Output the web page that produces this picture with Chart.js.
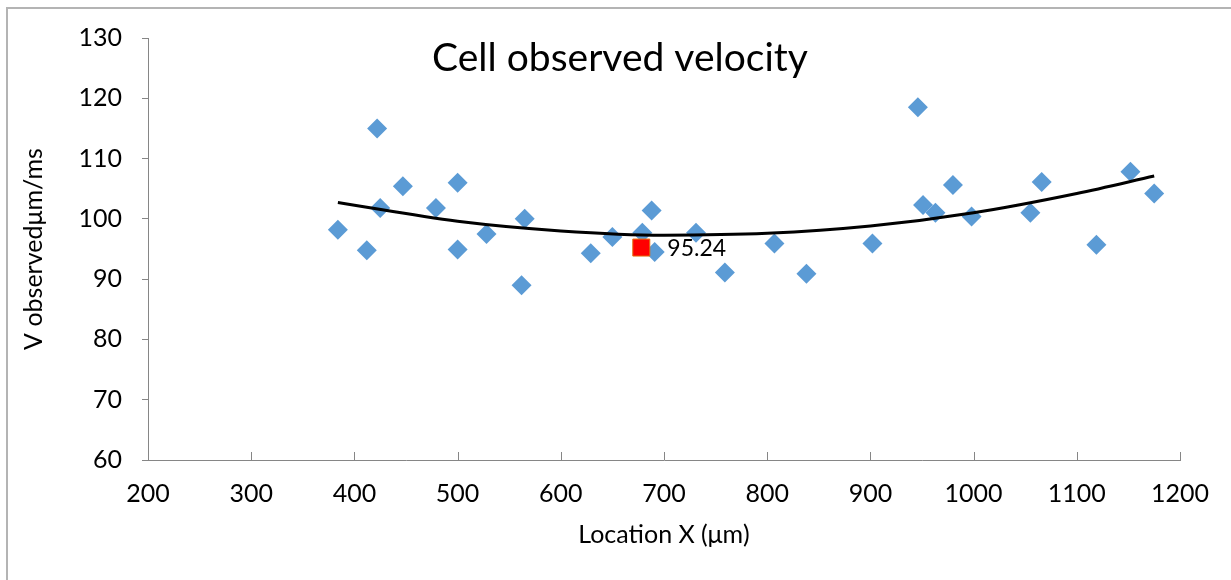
<!DOCTYPE html>
<html>
<head>
<meta charset="utf-8">
<script src="https://cdn.jsdelivr.net/npm/chart.js@4.4.1/dist/chart.umd.min.js"></script>
<style>
  html, body { margin: 0; padding: 0; background: #fff; overflow: hidden; }
  #frame { position: absolute; left: 6px; top: 7px; width: 1400px; height: 800px; border: 2px solid #b4b4b4; }
  #wrap { position: absolute; left: 0; top: 0; width: 1231px; height: 580px; }
</style>
</head>
<body>
<div id="frame"></div>
<div id="wrap"><canvas id="myChart"></canvas></div>
<script>
// measured cells
const locationX = [384, 412, 422, 425, 447, 479, 500, 500, 528, 562, 565, 629, 650, 679, 688, 691,
  731, 759, 807, 838, 902, 946, 951, 963, 980, 998, 1055, 1066, 1119, 1152, 1175];
const velocity = [98.2, 94.8, 115.0, 101.8, 105.4, 101.8, 106.0, 94.9, 97.5, 89.0, 100.0, 94.3, 97.0, 97.7, 101.4, 94.5,
  97.7, 91.1, 95.9, 90.9, 95.9, 118.5, 102.3, 101.0, 105.6, 100.4, 101.0, 106.1, 95.7, 107.8, 104.2];

// highlighted point
const markX = [678];
const markY = [95.24];

// trendline
const trendX = [384, 500, 600, 700, 800, 900, 1000, 1100, 1175];
const trendY = [102.7, 99.6, 98.0, 97.3, 97.6, 98.8, 101.0, 104.2, 107.1];

const chartTitle = 'Cell observed velocity';
const xTitle = 'Location X (\u03bcm)';
const yTitle = 'V observed\u03bcm/ms';

const FONT = 'Lato, "Open Sans", sans-serif';

function toPoints(xs, ys) {
  return xs.map((x, i) => ({ x: x, y: ys[i] }));
}

// title, data label and inward x ticks
const extras = {
  id: 'extras',
  afterDraw(chart) {
    const ctx = chart.ctx;
    const xs = chart.scales.x, ys = chart.scales.y;
    ctx.save();
    ctx.strokeStyle = '#868686';
    ctx.lineWidth = 1;
    xs.ticks.forEach(t => {
      const px = Math.round(xs.getPixelForValue(t.value)) + 0.5;
      ctx.beginPath();
      ctx.moveTo(px, ys.bottom);
      ctx.lineTo(px, ys.bottom - 8);
      ctx.stroke();
    });
    ctx.fillStyle = '#000';
    ctx.font = '39px ' + FONT;
    ctx.textAlign = 'center';
    ctx.textBaseline = 'middle';
    ctx.fillText(chartTitle, 620, 58);
    ctx.font = '23px ' + FONT;
    ctx.textAlign = 'left';
    const lx = xs.getPixelForValue(markX[0]) + 26;
    const ly = ys.getPixelForValue(markY[0]) + 1;
    ctx.fillText(markY[0].toFixed(2), lx, ly);
    ctx.restore();
  }
};

document.addEventListener('DOMContentLoaded', function() {
  const ctx = document.getElementById('myChart').getContext('2d');
  new Chart(ctx, {
    type: 'scatter',
    data: {
      datasets: [
        {
          label: 'mark',
          data: toPoints(markX, markY),
          pointStyle: 'rect',
          pointRadius: 12,
          backgroundColor: '#ff0000',
          borderColor: '#e46c0a',
          borderWidth: 1,
          order: 0
        },
        {
          label: 'trend',
          data: toPoints(trendX, trendY),
          showLine: true,
          pointRadius: 0,
          borderColor: '#000',
          borderWidth: 3,
          cubicInterpolationMode: 'monotone',
          order: 1
        },
        {
          label: 'velocity',
          data: toPoints(locationX, velocity),
          pointStyle: 'rectRot',
          pointRadius: 10,
          backgroundColor: '#5b9bd5',
          borderColor: '#5b9bd5',
          borderWidth: 0,
          order: 2
        }
      ]
    },
    options: {
      responsive: true,
      maintainAspectRatio: false,
      animation: false,
      layout: { padding: { left: 0, top: 38, right: 51, bottom: 0 } },
      plugins: {
        legend: { display: false },
        tooltip: { enabled: false }
      },
      scales: {
        x: {
          type: 'linear',
          min: 200,
          max: 1200,
          ticks: {
            stepSize: 100, color: '#000', padding: 19, font: { family: FONT, size: 25 },
            callback: v => String(v)
          },
          grid: { drawOnChartArea: false, drawTicks: false },
          border: { color: '#868686', width: 1 },
          title: { display: true, text: xTitle, color: '#000', padding: 30, font: { family: FONT, size: 25 } },
          afterFit: s => { s.height = 120; }
        },
        y: {
          min: 60,
          max: 130,
          ticks: { stepSize: 10, color: '#000', padding: 20, font: { family: FONT, size: 25 } },
          grid: { drawOnChartArea: false, tickLength: 6, color: '#868686' },
          border: { color: '#868686', width: 1 },
          title: { display: true, text: yTitle, color: '#000', padding: 19, font: { family: FONT, size: 25 } },
          afterFit: s => { s.width = 148; }
        }
      }
    },
    plugins: [extras]
  });
});
</script>
</body>
</html>
